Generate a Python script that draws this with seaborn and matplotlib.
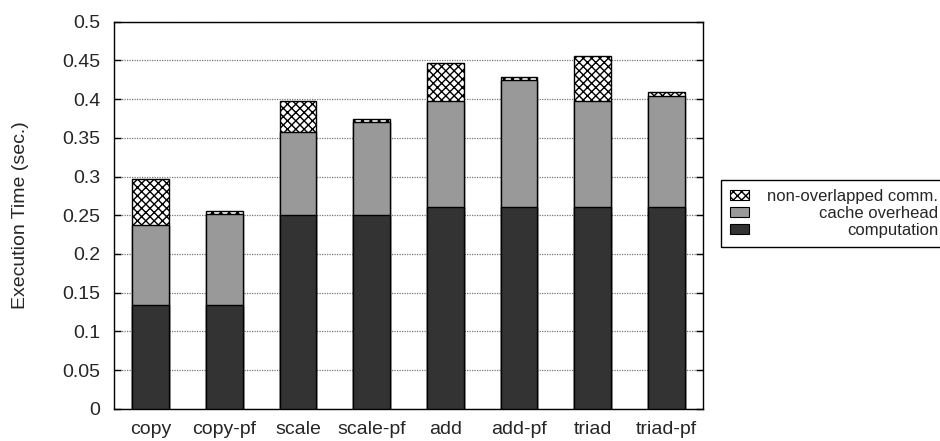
import numpy as np
import matplotlib
matplotlib.use("Agg")
import matplotlib.pyplot as plt
import matplotlib.patches as mpatches
import seaborn as sns

# values (seconds)
benchmarks = ["copy", "copy-pf", "scale", "scale-pf", "add", "add-pf", "triad", "triad-pf"]
computation = [0.134, 0.134, 0.250, 0.250, 0.261, 0.261, 0.261, 0.261]
cache_overhead = [0.104, 0.117, 0.108, 0.120, 0.137, 0.164, 0.137, 0.143]
nonoverlap_comm = [0.059, 0.004, 0.039, 0.004, 0.049, 0.004, 0.058, 0.005]
yticks = [0, 0.05, 0.1, 0.15, 0.2, 0.25, 0.3, 0.35, 0.4, 0.45, 0.5]
ytick_labels = ["0", "0.05", "0.1", "0.15", "0.2", "0.25", "0.3", "0.35", "0.4", "0.45", "0.5"]

sns.set_style("ticks")
plt.rcParams["font.family"] = ["Liberation Sans", "DejaVu Sans"]
plt.rcParams["hatch.linewidth"] = 1.0

comp = np.array(computation)
upto_cache = comp + np.array(cache_overhead)
total = upto_cache + np.array(nonoverlap_comm)

fig = plt.figure(figsize=(9.4, 4.41), dpi=100)
ax = fig.add_axes([0.1213, 0.0726, 0.6266, 0.8786])

bar_kw = dict(width=0.5, saturation=1, edgecolor="black", linewidth=1.0, ax=ax, zorder=3)
sns.barplot(x=benchmarks, y=total, color="white", hatch="xxxx", **bar_kw)
sns.barplot(x=benchmarks, y=upto_cache, color="#999999", **bar_kw)
sns.barplot(x=benchmarks, y=comp, color="#333333", **bar_kw)

ax.set_xlim(-0.5, len(benchmarks) - 0.5)
ax.set_ylim(0, 0.5)
ax.set_yticks(yticks)
ax.set_yticklabels(ytick_labels)
ax.yaxis.grid(True, linestyle=(0, (1, 1)), color="#777777", linewidth=0.9)
ax.set_axisbelow(True)
ax.tick_params(axis="y", direction="in", length=5, width=1, right=True, left=True,
               labelsize=14, pad=10, color="black")
ax.tick_params(axis="x", length=0, labelsize=14, pad=9)
ax.set_xlabel("")
ax.set_ylabel("Execution Time (sec.)", fontsize=14, labelpad=24)
for s in ax.spines.values():
    s.set_color("black")
    s.set_linewidth(1.0)

handles = [
    mpatches.Patch(facecolor="white", edgecolor="black", hatch="xxxx", linewidth=0.8),
    mpatches.Patch(facecolor="#999999", edgecolor="black", linewidth=0.8),
    mpatches.Patch(facecolor="#333333", edgecolor="black", linewidth=0.8),
]
labels = ["non-overlapped comm.", "cache overhead", "computation"]
leg = fig.legend(handles, labels, loc="upper left", bbox_to_anchor=(0.767, 0.592),
                 fontsize=12, frameon=True, fancybox=False, edgecolor="black",
                 framealpha=1, borderaxespad=0, handlelength=1.15, handleheight=0.5,
                 handletextpad=0.5, labelspacing=0.12, borderpad=0.55)
leg.get_frame().set_linewidth(1.0)

# right-align legend labels like the original (handles stay on the left)
for column in leg._legend_handle_box.get_children():
    for row in column.get_children():
        row.mode = "expand"
        row.width = 208

fig.savefig("out.png", dpi=100)
